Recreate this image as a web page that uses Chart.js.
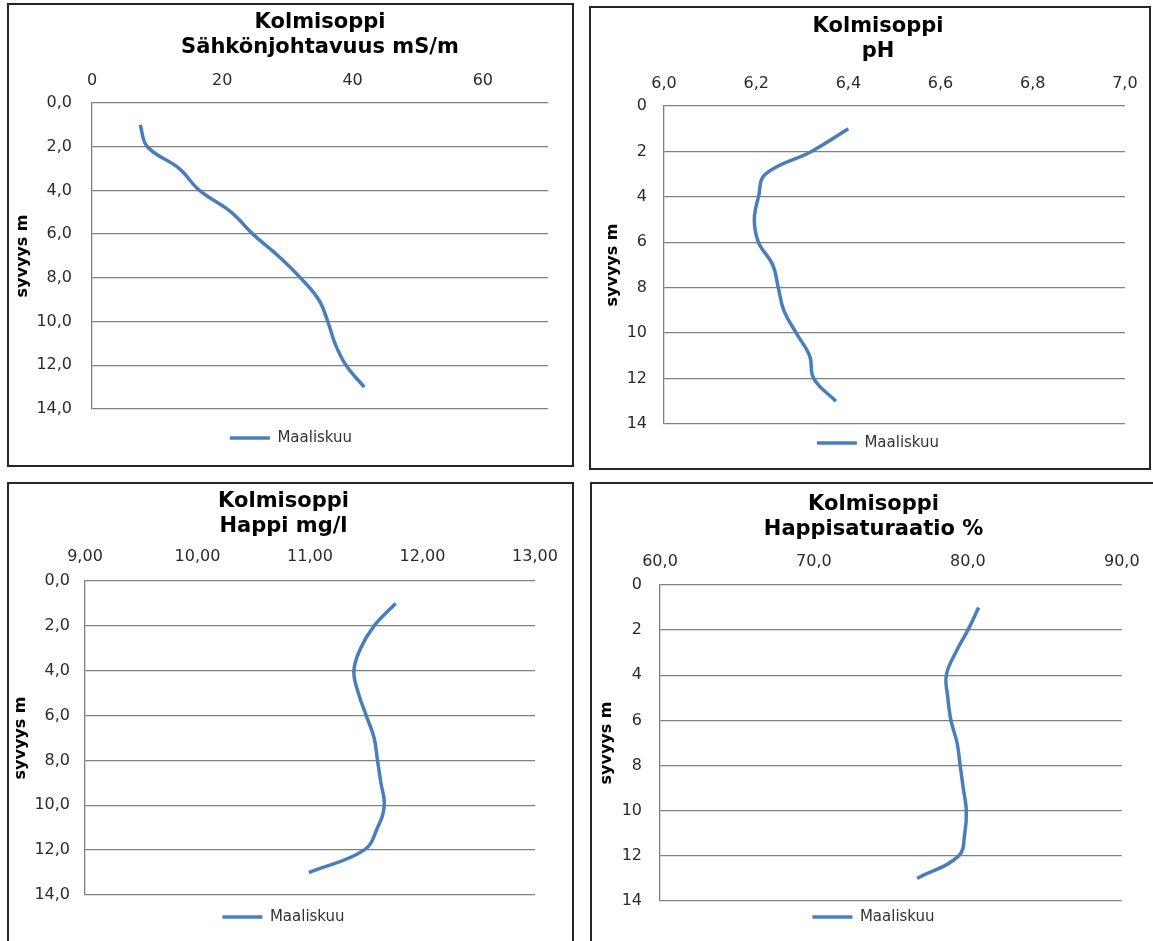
<!DOCTYPE html>
<html>
<head>
<meta charset="utf-8">
<title>Kolmisoppi</title>
<script src="https://cdn.jsdelivr.net/npm/chart.js@4.4.0/dist/chart.umd.min.js"></script>
<style>
  body { margin: 0; width: 1153px; height: 941px; overflow: hidden; background: #fff; position: relative; }
  .box { position: absolute; border: 2px solid #262626; box-sizing: border-box; }
  canvas { position: absolute; }
</style>
</head>
<body>
<div class="box" style="left:7px;top:3px;width:567px;height:464px"></div>
<div class="box" style="left:589px;top:6px;width:562px;height:464px"></div>
<div class="box" style="left:7px;top:482px;width:567px;height:480px"></div>
<div class="box" style="left:590px;top:482px;width:580px;height:480px"></div>
<canvas id="c1"></canvas>
<canvas id="c2"></canvas>
<canvas id="c3"></canvas>
<canvas id="c4"></canvas>

<script>
// Measurement depths (m) and depth axis ticks
const depths = [1, 2, 3, 4, 5, 6, 7, 8, 9, 10, 11, 12, 13];
const depthTicks = [0, 2, 4, 6, 8, 10, 12, 14];

// Sähkönjohtavuus mS/m
const conductivity = [7.4, 8.5, 13.4, 16.5, 21.4, 24.7, 28.6, 32.0, 34.8, 36.2, 37.3, 39.0, 41.8];
const conductivityTicks = [0, 20, 40, 60];
const conductivityRange = [0, 70];

// pH
const ph = [6.40, 6.32, 6.22, 6.205, 6.196, 6.205, 6.236, 6.248, 6.260, 6.287, 6.316, 6.325, 6.373];
const phTicks = [6.0, 6.2, 6.4, 6.6, 6.8, 7.0];
const phRange = [6.0, 7.0];

// Happi mg/l
const oxygen = [11.76, 11.57, 11.45, 11.39, 11.43, 11.50, 11.57, 11.60, 11.63, 11.66, 11.60, 11.48, 10.99];
const oxygenTicks = [9, 10, 11, 12, 13];
const oxygenRange = [9, 13];

// Happisaturaatio %
const saturation = [80.7, 80.0, 79.2, 78.6, 78.7, 78.9, 79.3, 79.5, 79.7, 79.9, 79.8, 79.4, 76.7];
const saturationTicks = [60, 70, 80, 90];
const saturationRange = [60, 90];

const seriesName = 'Maaliskuu';
const lineColor = '#4a7ebb';
const gridColor = '#7f7f7f';
const fontFamily = '"DejaVu Sans", Verdana, sans-serif';

// page geometry of each panel: canvas, plot area, text centres
const layouts = {
    c1: { x: 8, y: 4, w: 565, h: 462, padLeft: 26, titleOverPlot: true, plot: { l: 92, r: 548, t: 103, b: 409 }, titleY: 23, xLabelY: 81, legendY: 438, yTitleX: 23, yGap: 20 },
    c2: { x: 590, y: 7, w: 560, h: 462, padLeft: 36, titleOverPlot: false, plot: { l: 664, r: 1130, t: 106, b: 424 }, titleY: 27, xLabelY: 84, legendY: 443, yTitleX: 613, yGap: 17 },
    c3: { x: 8, y: 483, w: 565, h: 458, padLeft: 24, titleOverPlot: false, plot: { l: 85, r: 535, t: 581, b: 895 }, titleY: 502, xLabelY: 557, legendY: 917, yTitleX: 21, yGap: 15 },
    c4: { x: 592, y: 483, w: 561, h: 458, padLeft: 28, titleOverPlot: false, plot: { l: 660, r: 1127, t: 585, b: 901 }, titleY: 505, xLabelY: 562, legendY: 917, yTitleX: 607, yGap: 18 }
};

function formatNum(v, decimals) {
    return v.toFixed(decimals).replace('.', ',');
}

function drawProfile(id, subtitle, values, xTicks, xRange, xDecimals, yDecimals) {
    const g = layouts[id];
    const canvas = document.getElementById(id);
    canvas.width = g.w;
    canvas.height = g.h;
    canvas.style.left = g.x + 'px';
    canvas.style.top = g.y + 'px';

    const titleLH = 25;
    const tickLH = 16 * 1.2;
    const titlePadTop = g.titleY - g.y - titleLH / 2;
    const xPad = g.plot.t - g.xLabelY - tickLH / 2;
    const xAxisH = xPad + tickLH + 2;
    const titlePadBottom = (g.plot.t - g.y - xAxisH) - titlePadTop - 2 * titleLH;
    const legendPad = g.legendY - g.plot.b - 7.5;
    const legendH = 15 + legendPad + 10;
    const padBottom = (g.y + g.h) - g.plot.b - legendH;
    const yAxisW = g.plot.l - g.x - g.padLeft;

    const points = depths.map((d, i) => ({ x: values[i], y: d }));

    new Chart(canvas.getContext('2d'), {
        type: 'scatter',
        data: {
            datasets: [{
                label: seriesName,
                data: points,
                showLine: true,
                borderColor: lineColor,
                backgroundColor: lineColor,
                borderWidth: 3.5,
                pointRadius: 0,
                tension: 0.4
            }]
        },
        options: {
            responsive: false,
            animation: false,
            layout: {
                padding: { top: 0, left: g.padLeft, right: (g.x + g.w) - g.plot.r, bottom: padBottom }
            },
            plugins: {
                title: {
                    display: true,
                    fullSize: !g.titleOverPlot,
                    text: ['Kolmisoppi', subtitle],
                    color: '#000',
                    font: { family: fontFamily, size: 21, weight: 'bold', lineHeight: titleLH / 21 },
                    padding: { top: titlePadTop, bottom: titlePadBottom }
                },
                legend: {
                    position: 'bottom',
                    labels: {
                        usePointStyle: true,
                        pointStyle: 'line',
                        pointStyleWidth: 40,
                        padding: legendPad,
                        color: '#333',
                        font: { family: fontFamily, size: 15 }
                    }
                },
                tooltip: { enabled: false }
            },
            scales: {
                x: {
                    type: 'linear',
                    position: 'top',
                    min: xRange[0],
                    max: xRange[1],
                    afterBuildTicks: s => { s.ticks = xTicks.map(v => ({ value: v })); },
                    afterFit: s => { s.height = xAxisH; },
                    grid: { display: false, drawTicks: false },
                    border: { display: false },
                    ticks: {
                        padding: xPad,
                        color: '#2b2b2b',
                        font: { family: fontFamily, size: 16 },
                        maxRotation: 0,
                        callback: v => formatNum(v, xDecimals)
                    }
                },
                y: {
                    type: 'linear',
                    reverse: true,
                    min: depthTicks[0],
                    max: depthTicks[depthTicks.length - 1],
                    afterBuildTicks: s => { s.ticks = depthTicks.map(v => ({ value: v })); },
                    afterFit: s => { s.width = yAxisW; },
                    grid: { color: gridColor, lineWidth: 1.3, drawTicks: false },
                    border: { display: true, color: gridColor, width: 1.3 },
                    title: {
                        display: true,
                        text: 'syvyys m',
                        color: '#000',
                        font: { family: fontFamily, size: 16, weight: 'bold' },
                        padding: { top: g.yTitleX - g.x - g.padLeft - 9.6, bottom: 0 }
                    },
                    ticks: {
                        padding: g.yGap,
                        color: '#2b2b2b',
                        font: { family: fontFamily, size: 16 },
                        callback: v => formatNum(v, yDecimals)
                    }
                }
            }
        }
    });
}

drawProfile('c1', 'Sähkönjohtavuus mS/m', conductivity, conductivityTicks, conductivityRange, 0, 1);
drawProfile('c2', 'pH', ph, phTicks, phRange, 1, 0);
drawProfile('c3', 'Happi mg/l', oxygen, oxygenTicks, oxygenRange, 2, 1);
drawProfile('c4', 'Happisaturaatio %', saturation, saturationTicks, saturationRange, 1, 0);
</script>
</body>
</html>
